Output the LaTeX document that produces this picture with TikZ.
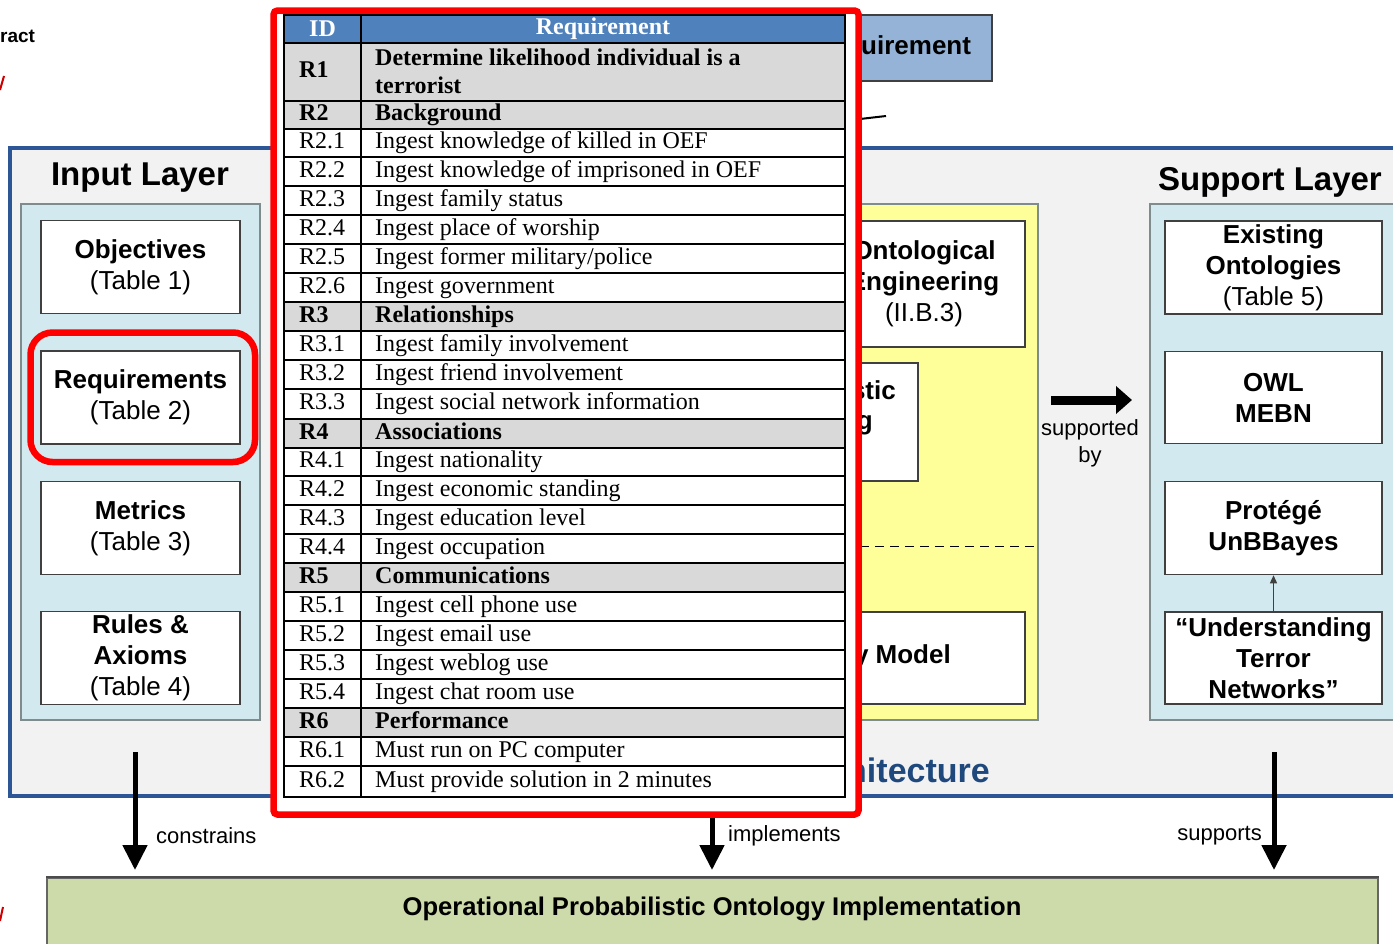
\documentclass[tikz,border=0pt]{standalone}
\usepackage{fontspec}
\setmainfont{Liberation Sans}
\newfontfamily\tms{Liberation Serif}
\usetikzlibrary{arrows.meta}
\definecolor{frameblue}{HTML}{2C5695}
\definecolor{framefill}{HTML}{F2F2F2}
\definecolor{panelblue}{HTML}{D2E9EF}
\definecolor{panelline}{HTML}{7F8C8D}
\definecolor{yellowp}{HTML}{FFFF99}
\definecolor{boxline}{HTML}{404040}
\definecolor{reqblue}{HTML}{95B3D7}
\definecolor{hdrblue}{HTML}{4F81BD}
\definecolor{rowgray}{HTML}{D9D9D9}
\definecolor{greenbox}{HTML}{CDDAAA}
\definecolor{archblue}{HTML}{1F497D}
\newcommand\fs[2]{\fontsize{#1}{#2}\selectfont}
% #1 name, #2 top, #3 bottom, #4 fill, #5 id, #6 text
\newcommand\reqrow[6]{%
  \filldraw[fill=#4, draw=black, line width=2.6pt] (284,#2) rectangle (845,#3);
  \draw[line width=2.6pt] (361,#2) -- (361,#3);
  \node[cell, anchor=west] (#1id) at (299,{(#2+#3)/2}) {#5};
  \node[cell, anchor=west] (#1tx) at (375,{(#2+#3)/2}) {#6};
}
\begin{document}
\begin{tikzpicture}[x=1pt,y=-1pt,
  box/.style={draw=boxline, fill=white, line width=1.5pt, align=center, inner sep=0pt, font=\fs{26}{31}},
  panel/.style={draw=panelline, line width=1.5pt, inner sep=0pt},
  cell/.style={font=\tms\fs{24}{28}, inner sep=0pt, text height=16.5pt, text depth=5pt},
  bigarrow/.style={line width=5pt, -{Triangle[length=25pt,width=24pt]}},
  lbl/.style={font=\fs{22}{27}, inner sep=0pt, align=center}]
\useasboundingbox (0,0) rectangle (1393,943);
\clip (0,0) rectangle (1393,943);
\fill[white] (0,0) rectangle (1393,943);

% top fragments
\node[font=\bfseries\fs{19}{23}, anchor=west, inner sep=0pt] (ract) at (0,36) {ract};
\draw[red!80!black, line width=2pt] (0,90) -- (4,76);
\draw[red!80!black, line width=2pt] (0,921) -- (3,907);

% requirement box (top)
\node[draw=boxline, fill=reqblue, line width=1.3pt, minimum width=292pt, minimum height=66pt, inner sep=0pt] (reqtop) at (846,48) {};
\node[font=\bfseries\fs{26}{31}, anchor=west, inner sep=0pt] (reqtoptxt) at (861,45) {uirement};
\coordinate (tailA) at (860,119);
\coordinate (tailB) at (886,116);
\draw[line width=2pt] (tailA) -- (tailB);

% architecture frame
\filldraw[draw=frameblue, fill=framefill, line width=3.5pt] (10,148) rectangle (1420,796);
\node[font=\bfseries\fs{34}{40}, text=archblue, anchor=east, inner sep=0pt] (archtxt) at (990,770) {hitecture};

% input layer
\node[font=\bfseries\fs{33}{40}, inner sep=0pt] (intitle) at (140,178) {Input Layer};
\node[panel, fill=panelblue, minimum width=239pt, minimum height=516pt] (inpanel) at (140.5,462) {};
\node[box, minimum width=199pt, minimum height=93pt] (obj) at (140.5,267) {\textbf{Objectives}\\(Table 1)};
\node[box, minimum width=199pt, minimum height=93pt] (req) at (140.5,397.5) {\textbf{Requirements}\\(Table 2)};
\node[box, minimum width=199pt, minimum height=93pt] (met) at (140.5,528) {\textbf{Metrics}\\(Table 3)};
\node[box, minimum width=199pt, minimum height=93pt] (rules) at (140.5,658) {\textbf{Rules \&}\\\textbf{Axioms}\\(Table 4)};
\draw[red, line width=6.5pt, rounded corners=22pt] (30.5,332.5) rectangle (255,462);

% middle (yellow) panel
\node[panel, fill=yellowp, minimum width=478pt, minimum height=516pt] (midpanel) at (799,462) {};
\node[box, minimum width=202pt, minimum height=126pt] (onto) at (924,284) {\textbf{Ontological}\\\textbf{Engineering}\\(II.B.3)};
\node[box, minimum width=200pt, minimum height=118pt] (prob) at (818,422) {};
\node[font=\bfseries\fs{26}{31}, anchor=base east, inner sep=0pt] (probA) at (896,399) {stic};
\node[font=\bfseries\fs{26}{31}, anchor=base east, inner sep=0pt] (probB) at (873,429) {g};
\coordinate (dashA) at (860,546.5);
\coordinate (dashB) at (1038,546.5);
\draw[line width=1.3pt, dash pattern=on 9pt off 6pt] (dashA) -- (dashB);
\node[box, minimum width=425pt, minimum height=92pt] (model) at (812.5,658) {};
\node[font=\bfseries\fs{26}{31}, anchor=east, inner sep=0pt] (modeltxt) at (951,657) {y Model};

% supported by
\coordinate (sbA) at (1051,400);
\coordinate (sbB) at (1132,400);
\draw[line width=9pt, -{Triangle[length=16pt,width=27pt]}] (sbA) -- (sbB);
\node[lbl] (sbtxt) at (1090,443) {supported\\by};

% support layer
\node[font=\bfseries\fs{33}{40}, inner sep=0pt] (suptitle) at (1270,182) {Support Layer};
\node[panel, fill=panelblue, minimum width=270pt, minimum height=516pt] (suppanel) at (1285,462) {};
\node[box, minimum width=217pt, minimum height=93pt] (exist) at (1273.5,267.5) {\textbf{Existing}\\\textbf{Ontologies}\\(Table 5)};
\node[box, minimum width=217pt, minimum height=92pt] (owl) at (1273.5,397.5) {\textbf{OWL}\\\textbf{MEBN}};
\node[box, minimum width=217pt, minimum height=93pt] (prot) at (1273.5,528) {\textbf{Protégé}\\\textbf{UnBBayes}};
\node[box, minimum width=217pt, minimum height=92pt] (und) at (1273.5,658) {\textbf{“Understanding}\\\textbf{Terror}\\\textbf{Networks”}};
\draw[line width=1.3pt, draw=boxline, -{Triangle[length=8pt,width=7pt]}] (und.north) -- (prot.south);

% bottom box
\node[draw=gray!80!black, fill=greenbox, line width=1.5pt, minimum width=1331pt, minimum height=80pt, inner sep=0pt] (impl) at (712.5,918) {};
\node[font=\bfseries\fs{25.6}{30}, inner sep=0pt] (impltxt) at (712,909) {Operational Probabilistic Ontology Implementation};
\draw[gray!60!black, line width=2pt] (impl.north west) -- (impl.north east);

% bottom arrows
\coordinate (aA) at (135,752);
\coordinate (aB) at (135,870);
\coordinate (bA) at (712,796);
\coordinate (bB) at (712,870);
\coordinate (cA) at (1274,752);
\coordinate (cB) at (1274,870);
\draw[bigarrow] (aA) -- (aB);
\draw[bigarrow] (bA) -- (bB);
\draw[bigarrow] (cA) -- (cB);
\node[lbl, anchor=west] (constr) at (156,836) {constrains};
\node[lbl, anchor=west] (implem) at (728,836) {implements};
\node[lbl, anchor=east] (supps) at (1262,836) {supports};

% requirements table
\filldraw[draw=red, fill=white, line width=6.5pt, rounded corners=4pt] (273.5,10.5) rectangle (858.5,814.5);
\filldraw[fill=hdrblue, draw=black, line width=2.6pt] (284,15) rectangle (845,43);
\draw[line width=2.6pt] (361,15) -- (361,43);
\node[font=\tms\bfseries\fs{24}{28}, text=white, inner sep=0pt] (hid) at (322.5,29) {ID};
\node[font=\tms\bfseries\fs{24}{28}, text=white, inner sep=0pt] (hreq) at (603,29) {Requirement};
\filldraw[fill=rowgray, draw=black, line width=2.6pt] (284,43) rectangle (845,101);
\draw[line width=2.6pt] (361,43) -- (361,101);
\node[cell, anchor=west] (r1id) at (299,72) {\bfseries R1};
\node[font=\tms\bfseries\fs{24}{28}, inner sep=0pt, align=left, anchor=west] (r1tx) at (375,71) {Determine likelihood individual is a\\terrorist};
\reqrow{r2}{101}{129}{rowgray}{\bfseries R2}{\bfseries Background}
\reqrow{r21}{129}{157}{white}{R2.1}{Ingest knowledge of killed in OEF}
\reqrow{r22}{157}{186}{white}{R2.2}{Ingest knowledge of imprisoned in OEF}
\reqrow{r23}{186}{215}{white}{R2.3}{Ingest family status}
\reqrow{r24}{215}{244}{white}{R2.4}{Ingest place of worship}
\reqrow{r25}{244}{273}{white}{R2.5}{Ingest former military/police}
\reqrow{r26}{273}{302}{white}{R2.6}{Ingest government}
\reqrow{r3}{302}{331}{rowgray}{\bfseries R3}{\bfseries Relationships}
\reqrow{r31}{331}{360}{white}{R3.1}{Ingest family involvement}
\reqrow{r32}{360}{389}{white}{R3.2}{Ingest friend involvement}
\reqrow{r33}{389}{419}{white}{R3.3}{Ingest social network information}
\reqrow{r4}{419}{448}{rowgray}{\bfseries R4}{\bfseries Associations}
\reqrow{r41}{448}{476}{white}{R4.1}{Ingest nationality}
\reqrow{r42}{476}{505}{white}{R4.2}{Ingest economic standing}
\reqrow{r43}{505}{534}{white}{R4.3}{Ingest education level}
\reqrow{r44}{534}{563}{white}{R4.4}{Ingest occupation}
\reqrow{r5}{563}{592}{rowgray}{\bfseries R5}{\bfseries Communications}
\reqrow{r51}{592}{621}{white}{R5.1}{Ingest cell phone use}
\reqrow{r52}{621}{650}{white}{R5.2}{Ingest email use}
\reqrow{r53}{650}{679}{white}{R5.3}{Ingest weblog use}
\reqrow{r54}{679}{708}{white}{R5.4}{Ingest chat room use}
\reqrow{r6}{708}{737}{rowgray}{\bfseries R6}{\bfseries Performance}
\reqrow{r61}{737}{766}{white}{R6.1}{Must run on PC computer}
\reqrow{r62}{766}{797}{white}{R6.2}{Must provide solution in 2 minutes}
\end{tikzpicture}
\end{document}
